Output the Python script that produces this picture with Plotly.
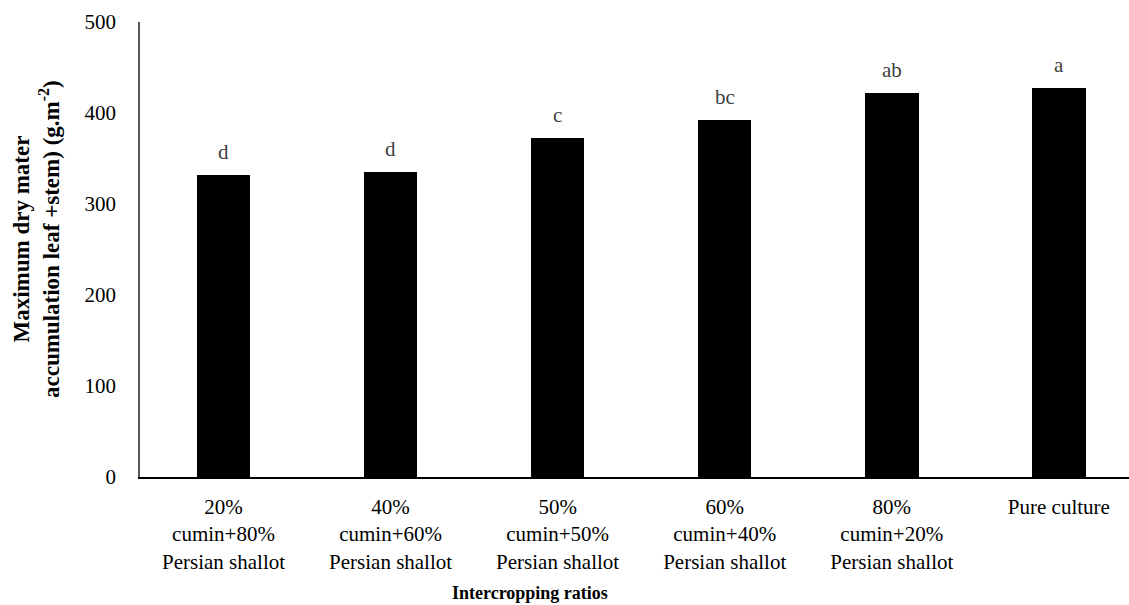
import plotly.graph_objects as go

categories = [
    "20%<br>cumin+80%<br>Persian shallot",
    "40%<br>cumin+60%<br>Persian shallot",
    "50%<br>cumin+50%<br>Persian shallot",
    "60%<br>cumin+40%<br>Persian shallot",
    "80%<br>cumin+20%<br>Persian shallot",
    "Pure culture",
]
values = [332, 335, 373, 392, 422, 427]
letters = ["d", "d", "c", "bc", "ab", "a"]
y_ticks = [0, 100, 200, 300, 400, 500]

FONT = "Liberation Serif"
W, H = 1129, 605
ML, MR, MT, MB = 140, 0, 22, 128
PW, PH = W - ML - MR, H - MT - MB

fig = go.Figure()
fig.add_trace(go.Bar(
    x=list(range(len(categories))), y=values,
    marker=dict(color="black", line=dict(width=0)),
    width=0.32, showlegend=False, hoverinfo="skip",
))

for i, (v, t) in enumerate(zip(values, letters)):
    fig.add_annotation(x=i, y=v, text=t, showarrow=False, yanchor="bottom",
                       yshift=9, font=dict(family=FONT, size=21, color="#404040"))

fig.update_layout(
    width=W, height=H,
    margin=dict(l=ML, r=MR, t=MT, b=MB),
    paper_bgcolor="white", plot_bgcolor="white",
    font=dict(family=FONT, size=21, color="black"),
    bargap=0,
    xaxis=dict(
        range=[-0.5, 5.42], tickmode="array",
        tickvals=list(range(len(categories))), ticktext=categories,
        showline=True, linecolor="#000000", linewidth=1.5,
        showgrid=False, zeroline=False,
        ticks="outside", ticklen=10, tickcolor="rgba(0,0,0,0)",
        tickfont=dict(family=FONT, size=21, color="black"),
    ),
    yaxis=dict(
        range=[0, 500], tickmode="array", tickvals=y_ticks,
        showline=True, linecolor="#595959", linewidth=1.5,
        showgrid=False, zeroline=False,
        ticks="outside", ticklen=18, tickcolor="rgba(0,0,0,0)",
        tickfont=dict(family=FONT, size=21, color="black"),
    ),
)

# y-axis title (two lines, bold, rotated)
fig.add_annotation(
    x=(36 - ML) / PW, y=(H - MB - 239) / PH, xref="paper", yref="paper",
    xanchor="center", yanchor="middle", showarrow=False, textangle=-90,
    text="<b>Maximum dry mater</b><br><b>accumulation leaf +stem) (g.m<sup>-2</sup>)</b>",
    font=dict(family=FONT, size=23, color="black"),
)

# x-axis title
fig.add_annotation(
    x=(530 - ML) / PW, y=(H - MB - 593) / PH,
    xref="paper", yref="paper", xanchor="center", yanchor="middle",
    showarrow=False, text="<b>Intercropping ratios</b>",
    font=dict(family=FONT, size=18, color="black"),
)

fig.write_html("out.html")
